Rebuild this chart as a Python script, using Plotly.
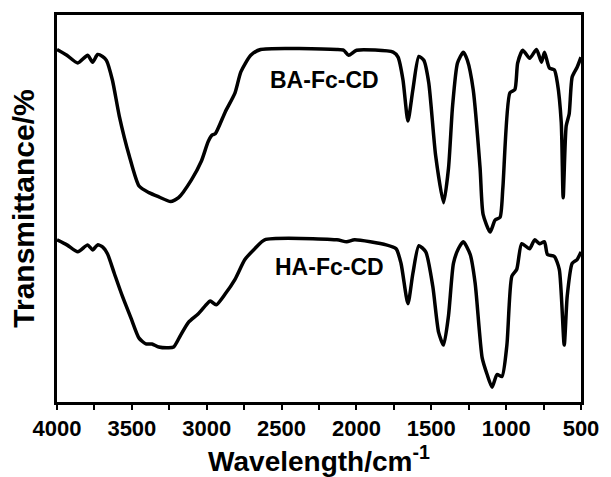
import plotly.graph_objects as go

# FTIR spectra of the two ferrocene/cyclodextrin samples (wavenumber in cm^-1, transmittance a.u.)
ba_wavenumber = [4000, 3934, 3861, 3795, 3762, 3729, 3696, 3670, 3630, 3584, 3518, 3452, 3386,
                 3320, 3241, 3188, 3102, 3036, 2990, 2963, 2943, 2877, 2811, 2772, 2706, 2640,
                 2131, 2085, 2052, 1999, 1755, 1722, 1689, 1656, 1623, 1583, 1550, 1517, 1471,
                 1418, 1385, 1358, 1325, 1286, 1259, 1220, 1174, 1154, 1107, 1074, 1041, 1022,
                 975, 942, 923, 889, 843, 797, 764, 744, 711, 678, 658, 632, 619, 599, 579,
                 559, 526, 500]
ba_transmittance = [91.1, 89.6, 87.6, 89.6, 87.8, 89.8, 89.3, 88.3, 83.2, 73.9, 63.7, 55.8, 54.1,
                    53.0, 51.8, 52.8, 57.4, 62.2, 67.3, 69.0, 69.3, 74.9, 79.9, 85.3, 89.6, 91.1,
                    91.1, 90.9, 89.6, 90.9, 90.4, 89.1, 83.2, 72.6, 80.7, 89.3, 88.3, 82.5, 63.7,
                    51.5, 60.4, 76.4, 87.6, 90.4, 88.3, 80.7, 60.4, 48.5, 43.9, 47.0, 47.7, 55.3,
                    79.9, 80.7, 87.6, 90.9, 88.8, 91.1, 87.8, 90.4, 86.3, 85.8, 82.5, 72.3, 52.8,
                    71.3, 74.4, 84.0, 86.5, 89.1]

ha_wavenumber = [4000, 3934, 3861, 3795, 3762, 3729, 3696, 3663, 3617, 3564, 3505, 3452, 3406,
                 3366, 3320, 3254, 3221, 3174, 3122, 3056, 3009, 2976, 2937, 2877, 2811, 2745,
                 2679, 2613, 2131, 2065, 2012, 1801, 1735, 1702, 1656, 1623, 1583, 1537, 1490,
                 1451, 1418, 1385, 1352, 1319, 1286, 1240, 1207, 1160, 1127, 1094, 1061, 1028,
                 995, 962, 929, 896, 843, 810, 777, 744, 724, 678, 645, 612, 592, 559, 526, 500]
ha_transmittance = [41.9, 40.6, 38.8, 40.6, 39.3, 40.6, 40.1, 38.3, 33.2, 27.4, 21.6, 16.5, 15.0,
                    15.0, 14.2, 14.0, 14.2, 17.3, 20.6, 22.8, 24.9, 26.1, 25.1, 27.9, 31.7, 36.8,
                    39.6, 41.9, 41.9, 41.4, 41.9, 40.6, 39.6, 35.8, 25.4, 33.2, 40.4, 38.8, 29.9,
                    18.0, 14.7, 22.3, 35.8, 39.6, 41.4, 38.1, 30.7, 11.4, 7.1, 3.8, 7.1, 6.6,
                    14.7, 32.5, 34.3, 40.9, 39.6, 41.9, 40.9, 41.4, 38.1, 37.6, 34.3, 14.7, 27.4,
                    35.8, 36.8, 38.8]

sample_labels = ["BA-Fc-CD", "HA-Fc-CD"]
label_positions = [(2210, 83.2), (2180, 35.0)]

tick_values = [4000, 3500, 3000, 2500, 2000, 1500, 1000, 500]
tick_labels = ["4000", "3500", "3000", "2500", "2000", "1500", "1000", "500"]

FONT = "Liberation Sans, Arial, sans-serif"

fig = go.Figure()
for wn, tr in [(ba_wavenumber, ba_transmittance), (ha_wavenumber, ha_transmittance)]:
    fig.add_trace(go.Scatter(
        x=wn, y=tr, mode="lines",
        line=dict(color="black", width=3.5, shape="spline", smoothing=0.6),
        showlegend=False, hoverinfo="skip",
    ))

for text, (x, y) in zip(sample_labels, label_positions):
    fig.add_annotation(x=x, y=y, text=text, showarrow=False,
                       font=dict(family=FONT, size=23, color="black", weight="bold"))

fig.update_layout(
    width=611, height=477,
    margin=dict(l=57, r=24, t=14, b=69),
    paper_bgcolor="white", plot_bgcolor="white",
    font=dict(family=FONT, color="black"),
)
fig.update_xaxes(
    range=[4000, 500], autorange=False,
    tickmode="array", tickvals=tick_values, ticktext=tick_labels,
    ticks="outside", ticklen=5, tickwidth=2, tickcolor="black",
    minor=dict(dtick=250, tick0=0, ticks="outside", ticklen=5, tickwidth=2, tickcolor="black"),
    showline=True, linecolor="black", linewidth=3, mirror=True,
    showgrid=False, zeroline=False,
    tickfont=dict(family=FONT, size=22, color="black", weight="bold"),
    title=dict(text="Wavelength/cm<sup>-1</sup>", standoff=4,
               font=dict(family=FONT, size=28, color="black", weight="bold")),
)
fig.update_yaxes(
    range=[0, 100], autorange=False,
    showticklabels=False, ticks="",
    showline=True, linecolor="black", linewidth=3, mirror=True,
    showgrid=False, zeroline=False,
    title=dict(text="Transmittance/%", standoff=11,
               font=dict(family=FONT, size=30, color="black", weight="bold")),
)

fig.write_html("out.html")
